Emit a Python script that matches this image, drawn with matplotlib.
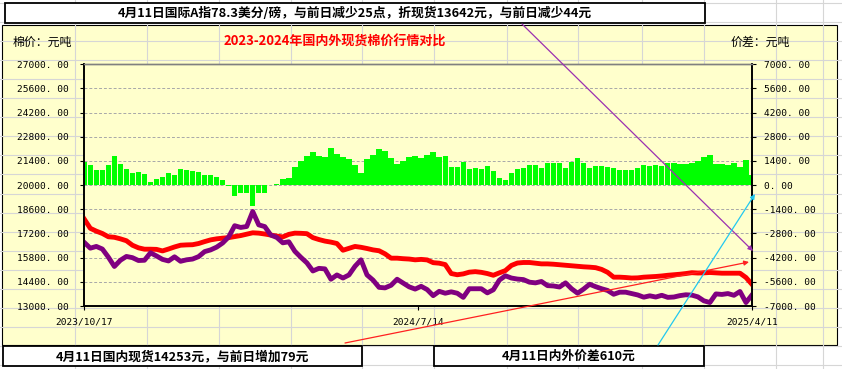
import numpy as np
import matplotlib
matplotlib.use("Agg")
import matplotlib.pyplot as plt
from matplotlib.patches import Rectangle

plt.rcParams['font.family'] = ['Noto Sans CJK SC', 'DejaVu Sans']

# ---- data (yuan/ton) ----
x_labels = ["2023/10/17", "2024/7/14", "2025/4/11"]

domestic = [
    18030, 17500, 17335, 17200, 17010, 16980, 16890, 16780, 16520, 16370,
    16290, 16290, 16280, 16190, 16300, 16420, 16520, 16540, 16550, 16620,
    16730, 16830, 16890, 16930, 16960, 17020, 17080, 17160, 17240, 17220,
    17170, 17110, 17050, 17000, 17150, 17220, 17210, 17190, 16960, 16850,
    16760, 16700, 16620, 16230, 16340, 16450, 16400, 16330, 16250, 16200,
    16020, 15770, 15770, 15740, 15720, 15675, 15700, 15670, 15510, 15480,
    15400, 14880, 14810, 14860, 14960, 14990, 14950, 14880, 14780, 14920,
    15050, 15350, 15490, 15520, 15520, 15480, 15440, 15440, 15420, 15390,
    15360, 15330, 15300, 15270, 15250, 15220, 15120, 14950, 14670, 14670,
    14650, 14620, 14630, 14670, 14690, 14710, 14740, 14780, 14810, 14840,
    14880, 14930, 14910, 14920, 14940, 14920, 14900, 14900, 14900, 14900,
    14650, 14253,
]

international = [
    16680, 16350, 16450, 16300, 15830, 15290, 15650, 15870, 15800, 15635,
    15650, 16080, 15900, 15700, 15610, 15850, 15590, 15675, 15720, 15860,
    16150, 16250, 16410, 16650, 17000, 17650, 17550, 17605, 18475, 17700,
    17600, 17110, 16970, 16660, 16720, 16170, 15820, 15500, 15030, 15180,
    15150, 14550, 14800, 14620, 14800, 15300, 15675, 14800, 14500, 14080,
    14050, 14200, 14550, 14330, 14110, 13980, 14140, 13950, 13600, 13850,
    13740, 13820, 13740, 13500, 14000, 14000, 14000, 13760, 13940, 14500,
    14750, 14620, 14560, 14530, 14380, 14340, 14420, 14180, 14160, 14100,
    14340, 14000, 13740, 13980, 14260, 14120, 14000, 13900, 13680, 13800,
    13800, 13720, 13640, 13510, 13590, 13520, 13620, 13500, 13520, 13600,
    13650, 13630, 13530, 13300, 13200, 13700, 13670, 13720, 13620, 13840,
    13200, 13642,
]

# price spread = domestic - international
spread = np.array(domestic) - np.array(international)

left_ticks = np.arange(13000, 27001, 1400)
right_ticks = np.arange(-7000, 7001, 1400)

top_note = "4月11日国际A指78.3美分/磅，与前日减少25点，折现货13642元，与前日减少44元"
left_note = "4月11日国内现货14253元，与前日增加79元"
right_note = "4月11日内外价差610元"
title = "2023-2024年国内外现货棉价行情对比"

YELLOW = "#FFFFCC"
NUMFONT = "DejaVu Sans Mono"
W, H = 842, 369

fig = plt.figure(figsize=(W / 100, H / 100), dpi=100)

# ---- background: spreadsheet grid + chart area ----
bg = fig.add_axes([0, 0, 1, 1], zorder=0)
bg.set_xlim(0, W)
bg.set_ylim(H, 0)
bg.axis("off")
for k in range(21):
    bg.axhline(3 + 19.05 * k, color="#D6D6D6", lw=0.8)
for xv in [75, 147, 219, 291, 362, 434, 507, 578, 642, 704, 776, 823]:
    bg.axvline(xv, color="#D6D6D6", lw=0.8)
bg.add_patch(Rectangle((2, 25), 835, 320, fc=YELLOW, ec="black", lw=0.8))
bg.text(42, 42, "棉价：元吨", fontsize=8.6, ha="center", va="center")
bg.text(760, 42, "价差：元吨", fontsize=8.6, ha="center", va="center")
bg.text(335, 42, title, fontsize=9.4, color="red", fontweight="bold",
        ha="center", va="center")

pos = [84.3 / W, (H - 306) / H, 667.7 / W, 241.7 / H]
x = np.arange(len(domestic))

# ---- spread bars on the right axis ----
axb = fig.add_axes(pos, zorder=1)
axb.set_facecolor(YELLOW)
axb.bar(x, spread, width=0.9, color="#00FF00", linewidth=0)
axb.set_ylim(-7000, 7000)
axb.set_yticks(right_ticks)
axb.yaxis.tick_right()
axb.set_yticklabels([f"{v:.2f}".replace(".", ". ") for v in right_ticks],
                    family=NUMFONT, fontsize=6.8)
axb.tick_params(axis="y", direction="out", length=3, pad=6, width=0.8)
axb.set_xticks([])
axb.grid(axis="y", color="#A8A8A8", ls=(0, (3, 2)), lw=0.7)
axb.set_axisbelow(True)
axb.set_xlim(0, len(x) - 1)

# ---- price lines on the left axis ----
ax = fig.add_axes(pos, zorder=2)
ax.patch.set_visible(False)
ax.plot(x, domestic, color="#FF0000", lw=3.5, solid_joinstyle="round")
ax.plot(x, international, color="#800080", lw=3.5, solid_joinstyle="round")
ax.set_xlim(0, len(x) - 1)
ax.set_ylim(13000, 27000)
ax.set_yticks(left_ticks)
ax.set_yticklabels([f"{v:.2f}".replace(".", ". ") for v in left_ticks],
                   family=NUMFONT, fontsize=6.8)
ax.tick_params(axis="y", direction="out", length=3, pad=8, width=0.8)
ax.set_xticks([0, (len(x) - 1) / 2, len(x) - 1])
ax.set_xticklabels(x_labels, family=NUMFONT, fontsize=6.8)
ax.tick_params(axis="x", direction="out", length=3, pad=5, width=0.8)

for a in (ax, axb):
    for side in ("left", "right", "bottom"):
        a.spines[side].set_color("black")
        a.spines[side].set_linewidth(1.2)
    a.spines["top"].set_color("#808080")
    a.spines["top"].set_linewidth(1.0)

# ---- overlay: text boxes and arrows ----
ov = fig.add_axes([0, 0, 1, 1], zorder=5)
ov.set_xlim(0, W)
ov.set_ylim(H, 0)
ov.axis("off")
ov.patch.set_visible(False)

ov.add_patch(Rectangle((5, 3), 700, 20, fc="white", ec="black", lw=1.3))
ov.text(355, 13.5, top_note, fontsize=9.2, fontweight="bold", ha="center", va="center")
ov.add_patch(Rectangle((3, 346), 359, 20, fc="white", ec="black", lw=1.3))
ov.text(182, 356.5, left_note, fontsize=9.2, fontweight="bold", ha="center", va="center")
ov.add_patch(Rectangle((434, 346), 270, 20, fc="white", ec="black", lw=1.3))
ov.text(569, 356.5, right_note, fontsize=9.2, fontweight="bold", ha="center", va="center")

arrows = [
    ((522, 24), (753, 251), "#9B30B0"),
    ((345, 343), (749, 262), "#FF2020"),
    ((658, 345), (755, 194), "#22C8F0"),
]
for start, end, col in arrows:
    ov.annotate("", xy=end, xytext=start,
                arrowprops=dict(arrowstyle="-|>", color=col, lw=0.9,
                                mutation_scale=7, shrinkA=0, shrinkB=0))

fig.savefig("out.png", dpi=100)
